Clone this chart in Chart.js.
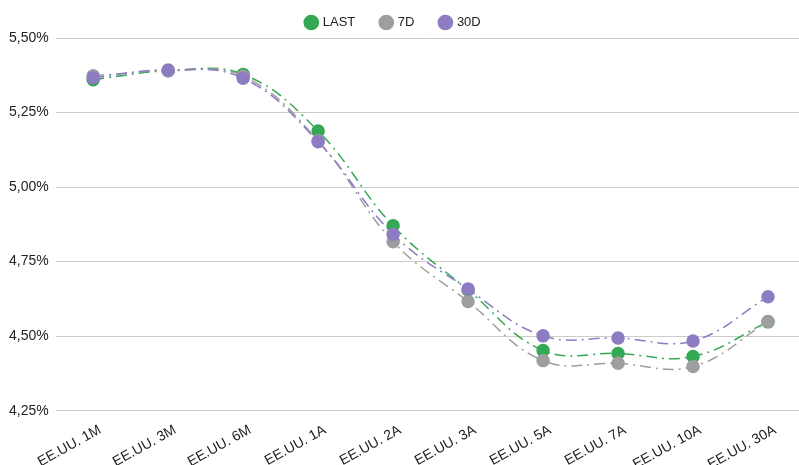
<!DOCTYPE html>
<html>
<head>
<meta charset="utf-8">
<script src="https://cdn.jsdelivr.net/npm/chart.js@4.4.1/dist/chart.umd.min.js"></script>
<style>
	html, body { margin: 0; padding: 0; background: #fff; overflow: hidden; }
	#wrap { width: 799px; height: 465px; overflow: hidden; position: relative; }
	canvas { display: block; }
</style>
</head>
<body>
<!-- plot runs a little past the right edge like in the original, so the canvas is wider than the window -->
<div id="wrap"><canvas id="myChart" width="813" height="465"></canvas></div>
<script>
const labels = ['EE.UU. 1M', 'EE.UU. 3M', 'EE.UU. 6M', 'EE.UU. 1A', 'EE.UU. 2A', 'EE.UU. 3A', 'EE.UU. 5A', 'EE.UU. 7A', 'EE.UU. 10A', 'EE.UU. 30A'];
const last = [5.360, 5.390, 5.378, 5.188, 4.870, 4.655, 4.452, 4.442, 4.432, 4.548];
const d7 = [5.373, 5.390, 5.372, 5.155, 4.817, 4.616, 4.418, 4.409, 4.398, 4.549];
const d30 = [5.367, 5.393, 5.365, 5.152, 4.842, 4.658, 4.501, 4.494, 4.484, 4.632];
const yTicks = { min: 4.25, max: 5.5, step: 0.25 };

const GREEN = '#34a853';
const GRAY = '#9e9e9e';
const PURPLE = '#8e7cc3';
const dashDot = [11, 5, 2, 5];
const FONT = 'Liberation Sans, Arial, sans-serif';

const makeSet = (label, data, color, order) => ({
	label: label,
	data: data,
	borderColor: color,
	backgroundColor: color,
	pointBackgroundColor: color,
	pointBorderColor: color,
	pointRadius: 6,
	pointHoverRadius: 6,
	borderWidth: 1.5,
	borderDash: dashDot,
	tension: 0.4,
	fill: false,
	order: order,
});

// legend is centred on the wider canvas, pull it back to the visible centre
const legendShift = {
	id: 'legendShift',
	afterLayout: (chart) => {
		chart.legend.left -= 14;
		chart.legend.right -= 14;
		chart.legend.top += 1;
		chart.legend.bottom += 1;
	},
};

let ctx = document.getElementById('myChart');
let chart = new Chart(ctx, {
	type: 'line',
	data: {
		labels: labels,
		datasets: [
			makeSet('LAST', last, GREEN, 2),
			makeSet('7D', d7, GRAY, 1),
			makeSet('30D', d30, PURPLE, 0),
		],
	},
	plugins: [legendShift],
	options: {
		responsive: false,
		animation: false,
		layout: { padding: { left: 2, right: 0, top: -11, bottom: -19 } },
		plugins: {
			legend: {
				position: 'top',
				align: 'center',
				labels: {
					usePointStyle: true,
					pointStyle: 'circle',
					boxWidth: 10,
					boxHeight: 10,
					padding: 26,
					color: '#222',
					font: { family: FONT, size: 13 },
					sort: (a, b) => a.datasetIndex - b.datasetIndex,
				},
			},
			tooltip: { enabled: false },
		},
		scales: {
			x: {
				offset: true,
				grid: { display: false, drawTicks: false },
				border: { display: false },
				afterFit: (scale) => {
					scale.paddingRight = 0;
				},
				ticks: {
					color: '#222',
					minRotation: 29,
					maxRotation: 29,
					padding: 11,
					labelOffset: 7,
					font: { family: FONT, size: 14 },
				},
			},
			y: {
				min: yTicks.min,
				max: yTicks.max,
				grid: { color: '#cccccc', lineWidth: 1, drawTicks: false },
				border: { display: false },
				ticks: {
					stepSize: yTicks.step,
					color: '#222',
					padding: 7,
					font: { family: FONT, size: 14 },
					callback: (v) => v.toFixed(2).replace('.', ',') + '%',
				},
			},
		},
	},
});
</script>
</body>
</html>
